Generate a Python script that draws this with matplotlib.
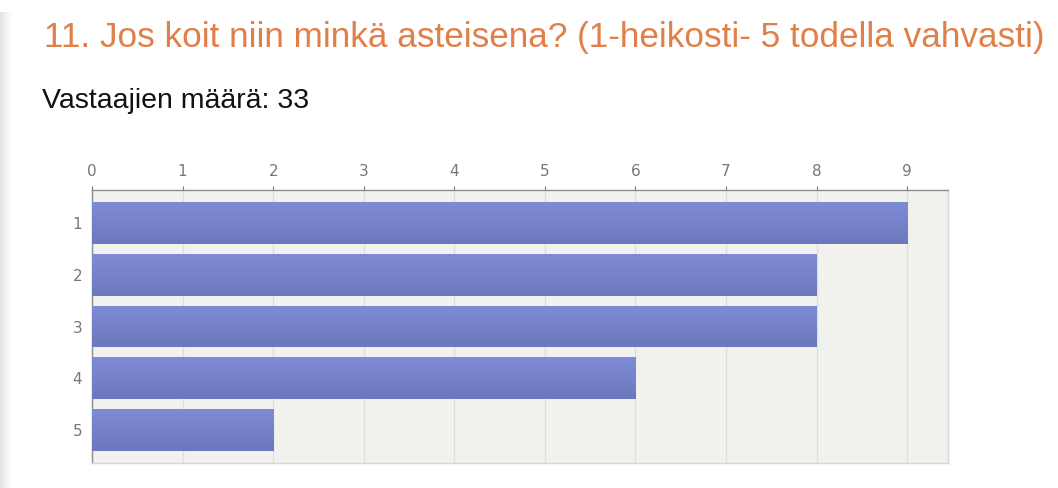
import numpy as np
import matplotlib.pyplot as plt
from matplotlib.colors import LinearSegmentedColormap

# survey answers: scale 1 (weak) .. 5 (very strong)
categories = ["1", "2", "3", "4", "5"]
counts = [9, 8, 8, 6, 2]
x_ticks = list(range(0, 10))

title = "11. Jos koit niin minkä asteisena? (1-heikosti- 5 todella vahvasti)"
subtitle = "Vastaajien määrä: 33"

plt.rcParams['font.family'] = ['Liberation Sans', 'DejaVu Sans']

fig = plt.figure(figsize=(10.58, 4.88), dpi=100)
fig.patch.set_facecolor("white")

# faint grey strip on the left page edge
strip = fig.add_axes([0, 0, 0.011, 0.975])
strip.imshow(np.linspace(0, 1, 20).reshape(1, -1), cmap=LinearSegmentedColormap.from_list("s", ["#e4e4e4", "#ffffff"]),
             aspect="auto", extent=[0, 1, 0, 1])
strip.axis("off")

fig.text(0.042, 0.904, title, color="#e07f48", fontsize=25.3, va="baseline")
fig.text(0.040, 0.779, subtitle, color="#111111", fontsize=20.5, va="baseline")

ax = fig.add_axes([0.087, 0.0512, 0.809, 0.5594])
ax.set_facecolor("#f1f2ee")

y = np.arange(1, len(categories) + 1)
bars = ax.barh(y, counts, height=0.81, color="#7784cc", zorder=3)

# vertical gradient on every bar, lighter at the top
grad = LinearSegmentedColormap.from_list("b", ["#7f8bd6", "#6c78bd"])
for b in bars:
    x0, y0 = b.get_x(), b.get_y()
    w, h = b.get_width(), b.get_height()
    im = ax.imshow(np.linspace(0, 1, 50).reshape(-1, 1), cmap=grad, aspect="auto",
                   extent=[x0, x0 + w, y0 + h, y0], zorder=4)
    im.set_clip_path(b)

ax.set_xlim(0, 9.45)
ax.set_ylim(5.64, 0.36)
ax.set_aspect("auto")

ax.xaxis.tick_top()
ax.set_xticks(x_ticks)
ax.set_yticks(y)
ax.set_yticklabels(categories)
ax.tick_params(axis="x", colors="#777777", labelsize=11, length=3, width=0.8, pad=5)
ax.tick_params(axis="y", colors="#777777", labelsize=11, length=0, pad=7)
for lab in ax.get_xticklabels() + ax.get_yticklabels():
    lab.set_family(['Liberation Sans Narrow', 'DejaVu Sans'])
ax.grid(axis="x", color="#dedede", lw=1, zorder=1)

for side in ["top", "left"]:
    ax.spines[side].set_color("#8c8c8c")
    ax.spines[side].set_linewidth(1)
for side in ["right", "bottom"]:
    ax.spines[side].set_color("#d6d6d6")
    ax.spines[side].set_linewidth(1)

plt.savefig("out.png", dpi=100)
